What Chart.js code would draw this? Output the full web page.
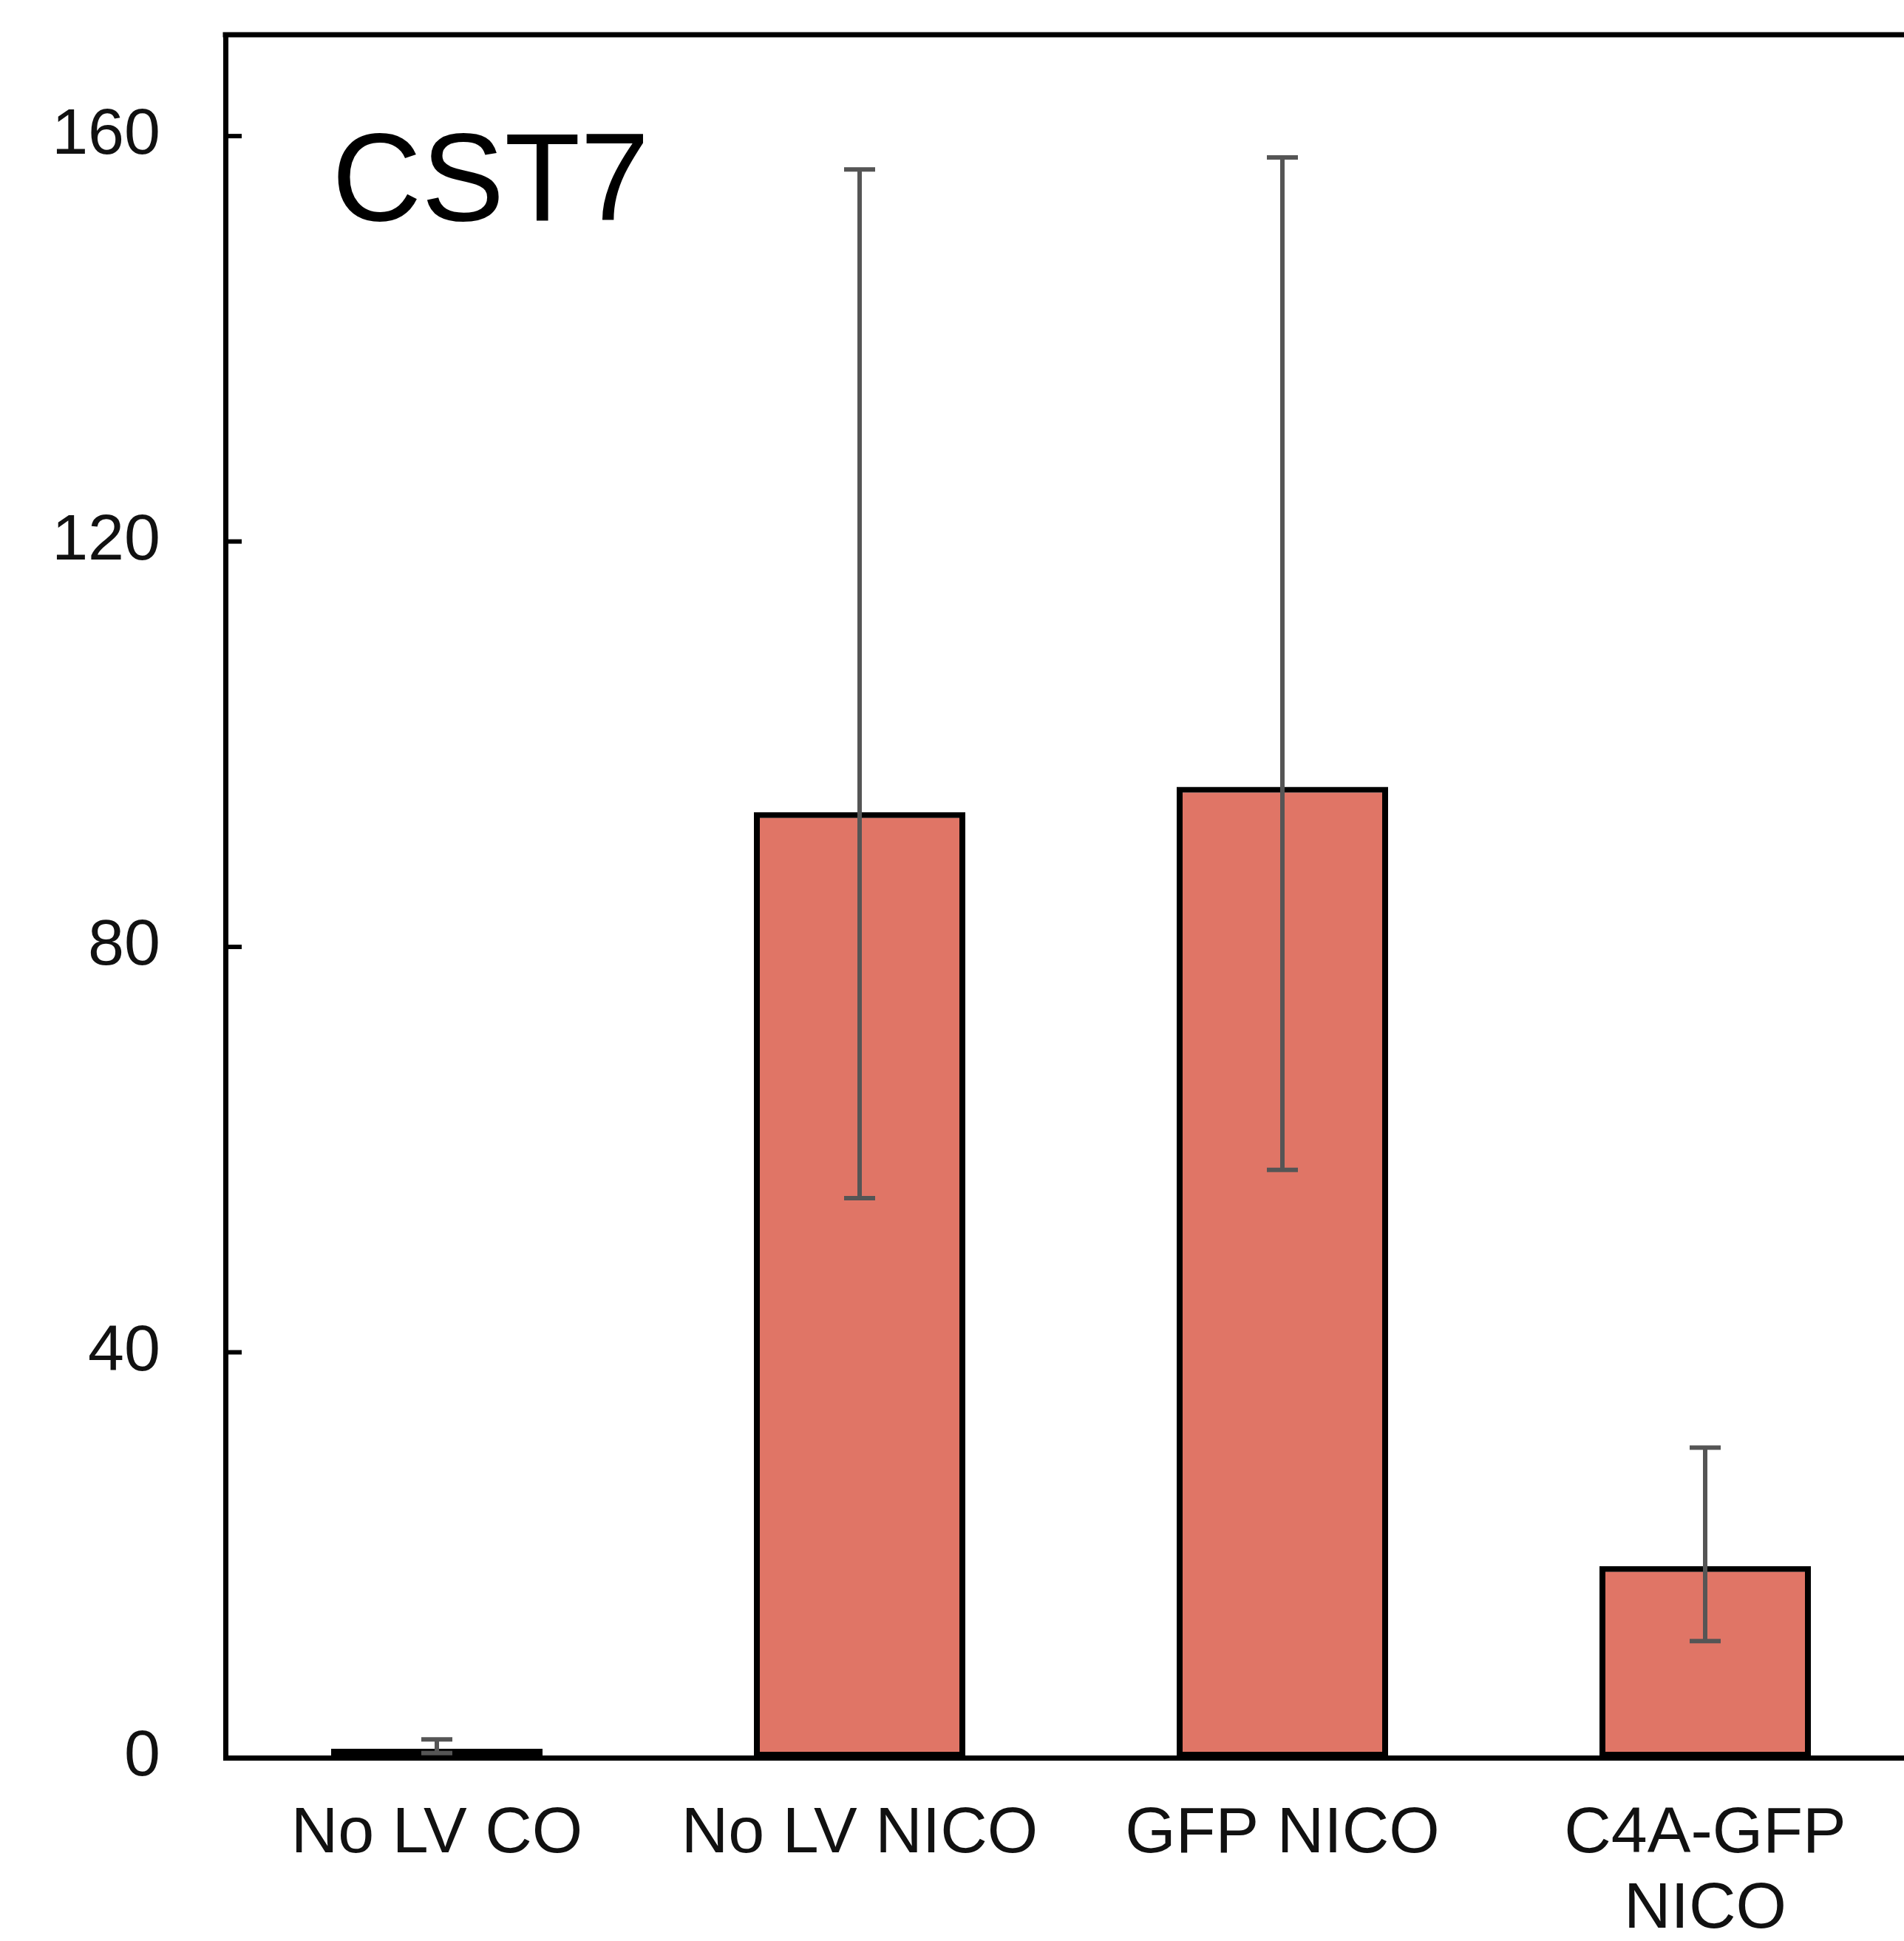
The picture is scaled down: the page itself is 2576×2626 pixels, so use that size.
<!DOCTYPE html>
<html>
<head>
<meta charset="utf-8">
<script src="https://cdn.jsdelivr.net/npm/chart.js@4.4.1/dist/chart.umd.min.js"></script>
<style>
  html, body { margin: 0; padding: 0; background: #fff; overflow: hidden; }
  #wrap { position: relative; width: 2600px; height: 2626px; }
</style>
</head>
<body>
<div id="wrap"><canvas id="chart"></canvas></div>
<script>
const categories = ['No LV CO', 'No LV NICO', 'GFP NICO', ['C4A-GFP', 'NICO']];
const means = [0.9, 93.3, 95.8, 18.9];
const errLow = [0.45, 55.2, 58.0, 11.5];
const errHigh = [1.8, 156.7, 157.9, 30.6];
const yTicks = [0, 40, 80, 120, 160];
const panelTitle = 'CST7';

const FONT = "'Liberation Sans', Arial, sans-serif";

// error bars, drawn from the y scale
const errorBars = {
  id: 'errorBars',
  afterDatasetsDraw(chart) {
    const { ctx, scales: { y } } = chart;
    const meta = chart.getDatasetMeta(0);
    ctx.save();
    ctx.strokeStyle = '#555555';
    ctx.lineWidth = 6;
    meta.data.forEach((bar, i) => {
      const top = y.getPixelForValue(errHigh[i]);
      const bot = y.getPixelForValue(errLow[i]);
      const cap = 21;
      ctx.beginPath();
      ctx.moveTo(bar.x, top); ctx.lineTo(bar.x, bot);
      ctx.moveTo(bar.x - cap, top); ctx.lineTo(bar.x + cap, top);
      ctx.moveTo(bar.x - cap, bot); ctx.lineTo(bar.x + cap, bot);
      ctx.stroke();
    });
    ctx.restore();
  }
};

// top frame line, inward y ticks, panel label
const frame = {
  id: 'frame',
  afterDraw(chart) {
    const { ctx, chartArea: a, scales: { y } } = chart;
    ctx.save();
    ctx.strokeStyle = '#000';
    ctx.lineWidth = 7;
    ctx.beginPath();
    ctx.moveTo(a.left - 3.5, a.top);
    ctx.lineTo(chart.width, a.top);
    ctx.stroke();
    ctx.lineWidth = 6;
    y.ticks.forEach(t => {
      const py = y.getPixelForValue(t.value);
      ctx.beginPath();
      ctx.moveTo(a.left, py);
      ctx.lineTo(a.left + 22, py);
      ctx.stroke();
    });
    ctx.fillStyle = '#000';
    ctx.font = `168px ${FONT}`;
    ctx.textBaseline = 'alphabetic';
    ctx.fillText(panelTitle, 449, 298);
    ctx.restore();
  }
};

new Chart(document.getElementById('chart').getContext('2d'), {
  type: 'bar',
  data: {
    labels: categories,
    datasets: [{
      data: means,
      backgroundColor: '#E07566',
      borderColor: '#000',
      borderWidth: 8,
      borderSkipped: false,
      barPercentage: 0.5,
      categoryPercentage: 1.0
    }]
  },
  options: {
    responsive: true,
    maintainAspectRatio: false,
    animation: false,
    layout: { padding: { top: 47, right: 7, left: 0, bottom: 0 } },
    plugins: { legend: { display: false }, tooltip: { enabled: false } },
    scales: {
      x: {
        grid: { display: false },
        border: { display: true, color: '#000', width: 7 },
        ticks: {
          color: '#111',
          padding: 45,
          maxRotation: 0,
          autoSkip: false,
          font: { family: FONT, size: 88, lineHeight: 1.16 }
        },
        afterFit(scale) {
          scale.height = 248;
          scale.paddingLeft = 0; scale.paddingRight = 0;
        }
      },
      y: {
        min: 0,
        max: 170,
        grid: { display: false },
        border: { display: true, color: '#000', width: 7 },
        ticks: {
          color: '#111',
          padding: 80,
          font: { family: FONT, size: 88 }
        },
        afterBuildTicks(scale) { scale.ticks = yTicks.map(v => ({ value: v })); },
        afterFit(scale) {
          scale.width = 305;
          scale.paddingTop = 0; scale.paddingBottom = 0;
        }
      }
    }
  },
  plugins: [errorBars, frame]
});
</script>
</body>
</html>
